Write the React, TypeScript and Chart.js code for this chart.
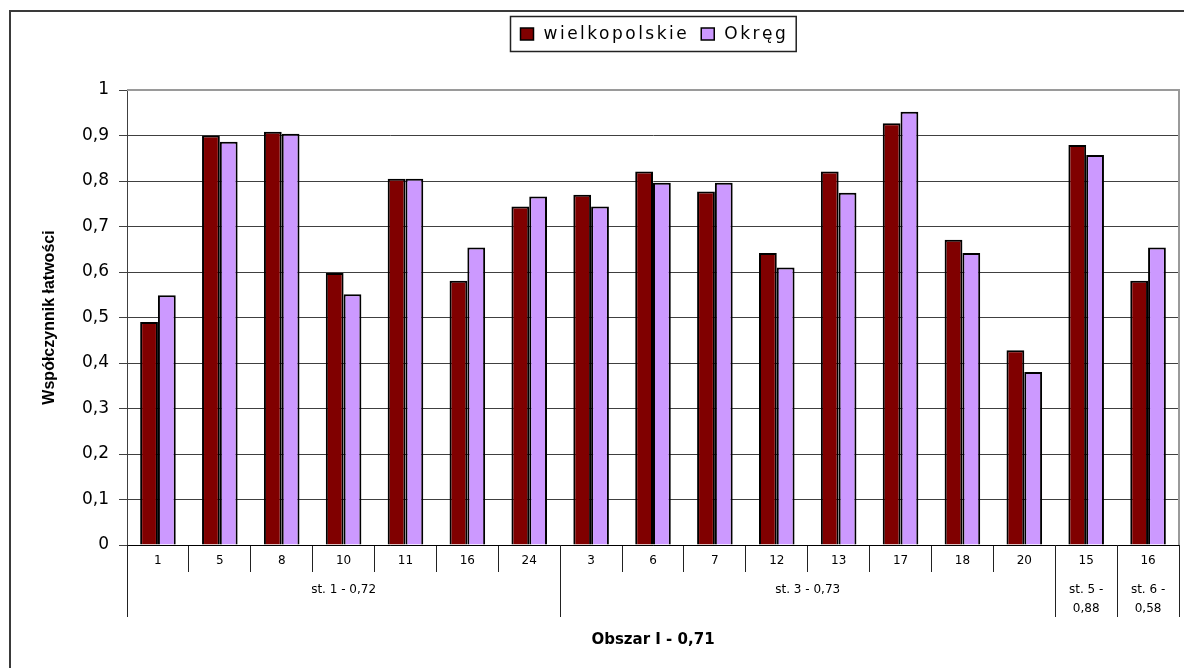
import React, { useEffect, useRef } from 'react';
import { Chart, registerables } from 'chart.js';

Chart.register(...registerables);

const categories = ['1', '5', '8', '10', '11', '16', '24', '3', '6', '7', '12', '13', '17', '18', '20', '15', '16'];
const groupLabels = [['st. 1 - 0,72'], ['st. 3 - 0,73'], ['st. 5 -', '0,88'], ['st. 6 -', '0,58']];
const groupSizes = [7, 8, 1, 1];
const seriesNames = ['wielkopolskie', 'Okręg'];
const wielkopolskie = [0.49, 0.9, 0.908, 0.598, 0.805, 0.581, 0.744, 0.77, 0.821, 0.777, 0.642, 0.821, 0.927, 0.671, 0.428, 0.879, 0.581];
const okreg = [0.549, 0.886, 0.904, 0.551, 0.805, 0.654, 0.766, 0.744, 0.796, 0.796, 0.61, 0.774, 0.952, 0.642, 0.38, 0.857, 0.654];
const yAxisTitle = 'Współczynnik łatwości';
const xAxisTitle = 'Obszar I - 0,71';

const decorPlugin = {
  id: 'decor',
  beforeDraw(chart: any) {
    const ctx = chart.ctx;
    ctx.save();
    ctx.strokeStyle = '#3a3a3a';
    ctx.lineWidth = 2;
    ctx.beginPath();
    ctx.moveTo(10, chart.height);
    ctx.lineTo(10, 11);
    ctx.lineTo(chart.width, 11);
    ctx.stroke();
    ctx.restore();
  },
  beforeDatasetsDraw(chart: any) {
    const ctx = chart.ctx;
    const a = chart.chartArea;
    ctx.save();
    ctx.strokeStyle = '#9a9a9a';
    ctx.lineWidth = 2;
    ctx.beginPath();
    ctx.moveTo(a.left, a.top);
    ctx.lineTo(a.right, a.top);
    ctx.lineTo(a.right, a.bottom);
    ctx.stroke();
    ctx.restore();
  },
  afterDraw(chart: any) {
    const ctx = chart.ctx;
    const a = chart.chartArea;
    const xs = chart.scales.x;
    const hw = (xs.getPixelForValue(1) - xs.getPixelForValue(0)) / 2;
    const boundary = (b: number) => (b === 0 ? xs.getPixelForValue(0) - hw : xs.getPixelForValue(b - 1) + hw);

    // group separators and labels
    ctx.save();
    ctx.strokeStyle = '#222';
    ctx.lineWidth = 1;
    ctx.fillStyle = '#000';
    ctx.font = '12px "DejaVu Sans"';
    ctx.textAlign = 'center';
    ctx.textBaseline = 'middle';
    let start = 0;
    const bounds = [0];
    groupSizes.forEach((n) => {
      start += n;
      bounds.push(start);
    });
    bounds.forEach((b) => {
      const x = Math.round(boundary(b)) + 0.5;
      ctx.beginPath();
      ctx.moveTo(x, a.bottom);
      ctx.lineTo(x, 617);
      ctx.stroke();
    });
    groupLabels.forEach((lines, gi) => {
      const x0 = boundary(bounds[gi]);
      const x1 = boundary(bounds[gi + 1]);
      lines.forEach((t, li) => {
        ctx.fillText(t, (x0 + x1) / 2, 590 + li * 19);
      });
    });
    ctx.restore();

    // legend
    ctx.save();
    ctx.font = '17px "DejaVu Sans"';
    (ctx as any).letterSpacing = '2.5px';
    const ds = chart.data.datasets;
    const w1 = ctx.measureText(ds[0].label).width;
    const w2 = ctx.measureText(ds[1].label).width;
    const padL = 10, sq = 13, gapT = 10, gapItem = 12, padR = 8;
    const total = padL + sq + gapT + w1 + gapItem + sq + gapT + w2 + padR;
    const cx = (a.left + a.right) / 2;
    const bx = Math.round(cx - total / 2) + 0.5;
    const by = 16.5, bh = 35;
    ctx.strokeStyle = '#222';
    ctx.lineWidth = 1.5;
    ctx.strokeRect(bx, by, total, bh);
    let x = bx + padL;
    const sy = 28;
    [0, 1].forEach((i) => {
      ctx.fillStyle = ds[i].backgroundColor;
      ctx.fillRect(x, sy, sq, 12);
      ctx.lineWidth = 1.5;
      ctx.strokeStyle = '#000';
      ctx.strokeRect(x, sy, sq, 12);
      x += sq + gapT;
      ctx.fillStyle = '#000';
      ctx.textAlign = 'left';
      ctx.textBaseline = 'middle';
      ctx.fillText(ds[i].label, x, by + bh / 2 + 1);
      x += (i === 0 ? w1 : w2) + gapItem;
    });
    ctx.restore();
  },
};

export default function App() {
  const ref = useRef<HTMLCanvasElement>(null);
  useEffect(() => {
    if (!ref.current) return;
    const chart = new Chart(ref.current, {
      type: 'bar',
      data: {
        labels: categories,
        datasets: [
          {
            label: seriesNames[0],
            data: wielkopolskie,
            backgroundColor: '#800000',
            borderColor: '#000',
            borderWidth: 2,
            barPercentage: 1,
            categoryPercentage: 0.575,
          },
          {
            label: seriesNames[1],
            data: okreg,
            backgroundColor: '#CC99FF',
            borderColor: '#000',
            borderWidth: 2,
            barPercentage: 1,
            categoryPercentage: 0.575,
          },
        ],
      },
      options: {
        animation: false,
        responsive: true,
        maintainAspectRatio: false,
        layout: { padding: { top: 90, right: 5, left: 0, bottom: 0 } },
        plugins: {
          legend: { display: false },
          tooltip: { enabled: false },
        },
        scales: {
          x: {
            offset: true,
            afterFit: (s: any) => {
              s.height = 123;
            },
            grid: {
              display: true,
              offset: true,
              drawOnChartArea: false,
              drawTicks: true,
              tickLength: 27,
              color: '#222',
              tickColor: '#222',
            },
            border: { display: true, color: '#000', width: 1 },
            ticks: {
              font: { family: 'DejaVu Sans', size: 12 },
              color: '#000',
              padding: -18,
              maxRotation: 0,
              autoSkip: false,
            },
            title: {
              display: true,
              text: xAxisTitle,
              color: '#000',
              font: { family: 'DejaVu Sans', size: 15, weight: 'bold' },
              padding: { top: 0, bottom: 19 },
            },
          },
          y: {
            min: 0,
            max: 1,
            afterFit: (s: any) => {
              s.width = 127;
            },
            ticks: {
              stepSize: 0.1,
              font: { family: 'DejaVu Sans', size: 17 },
              color: '#000',
              padding: 10,
              callback: (v: any) => {
                const n = Number(v);
                if (Math.abs(n) < 1e-9) return '0';
                if (Math.abs(n - 1) < 1e-9) return '1';
                return n.toFixed(1).replace('.', ',');
              },
            },
            grid: {
              color: (c: any) => (c.tick && Math.abs(c.tick.value - 1) < 1e-9 ? '#9a9a9a' : '#404040'),
              tickColor: '#404040',
              tickLength: 8,
              lineWidth: 1,
            },
            border: { display: true, color: '#404040', width: 1 },
            title: {
              display: true,
              text: yAxisTitle,
              color: '#000',
              font: { family: 'Liberation Sans', size: 16, weight: 'bold' },
              padding: { top: 40, bottom: 0 },
            },
          },
        },
      },
      plugins: [decorPlugin],
    } as any);
    return () => chart.destroy();
  }, []);

  return (
    <div style={{ position: 'fixed', left: 0, top: 0, width: 1184, height: 668, background: '#fff' }}>
      <canvas ref={ref} />
    </div>
  );
}
